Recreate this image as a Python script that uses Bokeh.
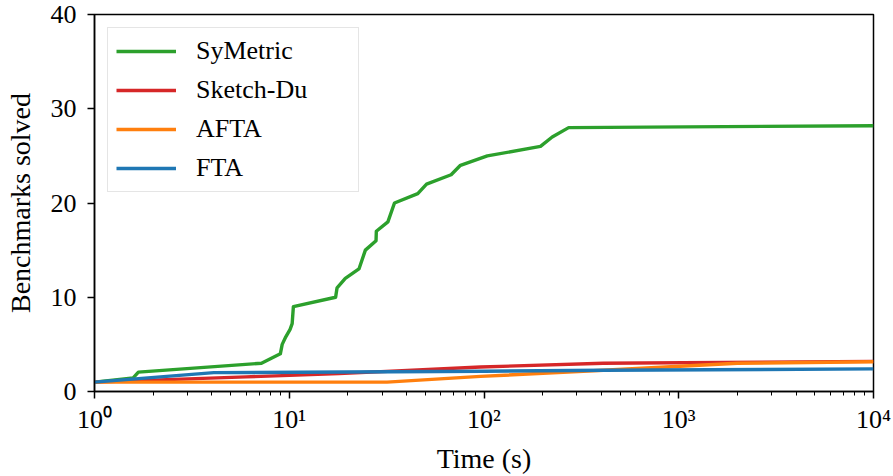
from bokeh.plotting import figure
from bokeh.models import FixedTicker, Legend, LegendItem
from bokeh.embed import file_html
from bokeh.resources import INLINE

# ---- data ----
symetric_t = [1, 1.58, 1.68, 7.2, 9.0, 9.2, 9.6, 10.1, 10.35, 10.5, 17.3, 17.6, 19.4, 22.8,
              24.6, 27.9, 28.0, 32.1, 34.7, 45.7, 50.7, 67.8, 75.7, 104, 195, 224, 272, 10000]
symetric_n = [1, 1.45, 2.05, 3, 4, 5, 5.8, 6.6, 7.2, 9, 10, 11, 12, 13,
              15, 16, 17, 18, 20, 21, 22, 23, 24, 25, 26, 27, 28, 28.2]

sketchdu_t = [1, 6, 18, 96, 410, 10000]
sketchdu_n = [1, 1.55, 1.9, 2.6, 3.0, 3.2]

afta_t = [1, 31.8, 96, 410, 2000, 10000]
afta_n = [1, 1.0, 1.6, 2.25, 3.0, 3.15]

fta_t = [1, 4.1, 100, 410, 10000]
fta_n = [1, 2.0, 2.15, 2.25, 2.4]

x_ticks = [1, 10, 100, 1000, 10000]
x_tick_labels = ["10⁰", "10¹", "10²", "10³", "10⁴"]
y_ticks = [0, 10, 20, 30, 40]

series_names = ["SyMetric", "Sketch-Du", "AFTA", "FTA"]
colors = ["#2ca02c", "#d62728", "#ff7f0e", "#1f77b4"]

FONT = "'Liberation Serif', serif"

p = figure(width=893, height=476, x_axis_type="log", x_range=(1, 10000), y_range=(0, 40),
           output_backend="svg", toolbar_location=None,
           min_border_left=94, min_border_right=20, min_border_top=14, min_border_bottom=83)

p.grid.visible = False
p.outline_line_color = "black"
p.outline_line_width = 1.5
p.background_fill_color = "white"
p.border_fill_color = "white"

minor = [m * 10 ** e for e in range(0, 4) for m in range(2, 10)]
p.xaxis.ticker = FixedTicker(ticks=x_ticks, minor_ticks=minor)
p.xaxis.major_label_overrides = {t: l for t, l in zip(x_ticks, x_tick_labels)}
p.yaxis.ticker = FixedTicker(ticks=y_ticks, minor_ticks=[])

for ax in (p.xaxis[0], p.yaxis[0]):
    ax.axis_line_color = "black"
    ax.axis_line_width = 1.5
    ax.major_tick_line_color = "black"
    ax.major_tick_line_width = 1.5
    ax.minor_tick_line_color = "black"
    ax.minor_tick_line_width = 1
    ax.major_tick_in = 0
    ax.major_tick_out = 7
    ax.minor_tick_in = 0
    ax.minor_tick_out = 4
    ax.major_label_text_font = FONT
    ax.major_label_text_font_size = "26px"
    ax.major_label_text_color = "black"
    ax.axis_label_text_font = FONT
    ax.axis_label_text_font_size = "28px"
    ax.axis_label_text_font_style = "normal"
    ax.axis_label_text_color = "black"

p.xaxis.axis_label = "Time (s)"
p.yaxis.axis_label = "Benchmarks solved"
p.xaxis.major_label_standoff = 6
p.yaxis.major_label_standoff = 11
p.xaxis.axis_label_standoff = 6
p.yaxis.axis_label_standoff = 12

series = [(symetric_t, symetric_n), (sketchdu_t, sketchdu_n), (afta_t, afta_n), (fta_t, fta_n)]
renderers = []
for (t, n), c in zip(series, colors):
    r = p.line(t, n, line_color=c, line_width=3.4, line_join="round")
    renderers.append(r)

legend = Legend(items=[LegendItem(label=name, renderers=[r]) for name, r in zip(series_names, renderers)],
                location="top_left", margin=13, padding=8, spacing=9,
                glyph_width=60, glyph_height=30, label_height=30, label_width=154, label_standoff=20,
                label_text_font=FONT, label_text_font_size="26px", label_text_color="black",
                border_line_color="#cccccc", border_line_width=1.5, background_fill_color="white",
                background_fill_alpha=0.9)
p.add_layout(legend)

open("out.html", "w").write(file_html(p, INLINE))
